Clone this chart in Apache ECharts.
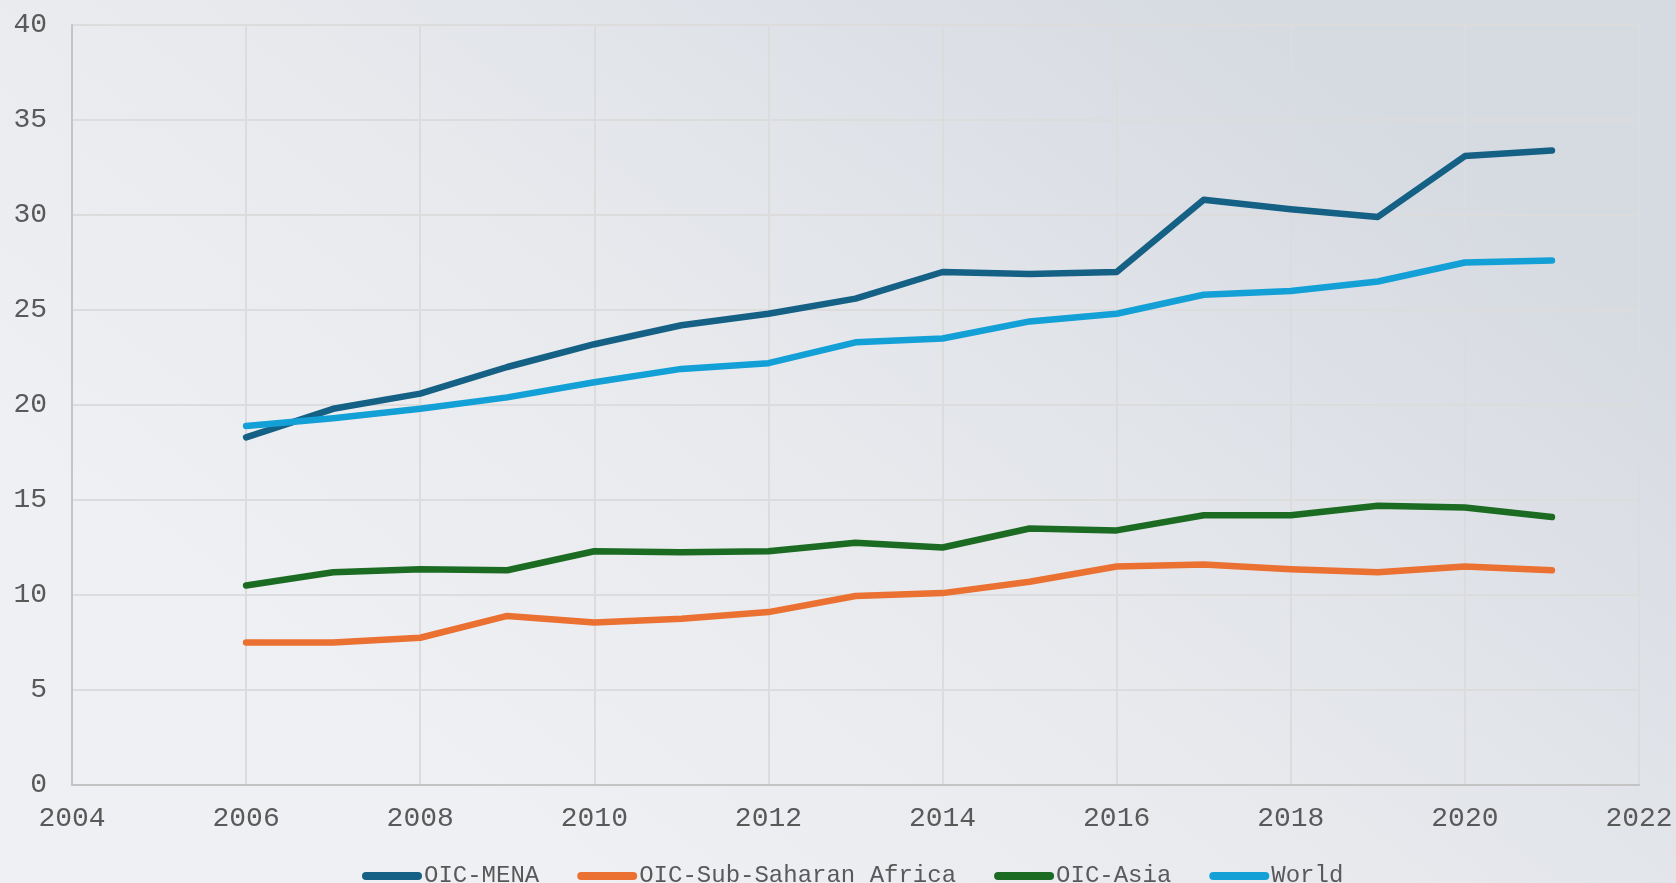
<!DOCTYPE html>
<html>
<head>
<meta charset="utf-8">
<title>OIC regions</title>
<script src="https://cdn.jsdelivr.net/npm/echarts@6/dist/echarts.min.js"></script>
<style>
  html, body { margin: 0; padding: 0; }
  #chart { width: 1676px; height: 883px; }
</style>
</head>
<body>
<div id="chart"></div>
<script>
// years on the x axis
var years = [2006, 2007, 2008, 2009, 2010, 2011, 2012, 2013, 2014, 2015, 2016, 2017, 2018, 2019, 2020, 2021];

// series values
var menaValues = [18.3, 19.8, 20.6, 22.0, 23.2, 24.2, 24.8, 25.6, 27.0, 26.9, 27.0, 30.8, 30.3, 29.9, 33.1, 33.4];
var ssaValues = [7.5, 7.5, 7.75, 8.9, 8.55, 8.75, 9.1, 9.95, 10.1, 10.7, 11.5, 11.6, 11.35, 11.2, 11.5, 11.3];
var asiaValues = [10.5, 11.2, 11.35, 11.3, 12.3, 12.25, 12.3, 12.75, 12.5, 13.5, 13.4, 14.2, 14.2, 14.7, 14.6, 14.1];
var worldValues = [18.9, 19.3, 19.8, 20.4, 21.2, 21.9, 22.2, 23.3, 23.5, 24.4, 24.8, 25.8, 26.0, 26.5, 27.5, 27.6];

var seriesNames = ["OIC-MENA", "OIC-Sub-Saharan Africa", "OIC-Asia", "World"];
var seriesColors = ["#156185", "#ea7131", "#1b6b23", "#12a0d7"];

function pairs(vals) {
  var out = [];
  for (var i = 0; i < years.length; i++) {
    out.push([years[i], vals[i]]);
  }
  return out;
}

function lineSeries(name, vals, color) {
  return {
    name: name,
    type: "line",
    data: pairs(vals),
    symbol: "none",
    smooth: false,
    color: color,
    lineStyle: { width: 6.5, color: color, cap: "round", join: "round" }
  };
}

var fontMono = "'Liberation Mono', 'DejaVu Sans Mono', monospace";
var gridColor = "#dcdcdc";

var chart = echarts.init(document.getElementById("chart"));

var option = {
  animation: false,
  backgroundColor: {
    type: "linear",
    x: 0.75, y: 0, x2: 0.35, y2: 1,
    colorStops: [
      { offset: 0, color: "#d6dae1" },
      { offset: 0.55, color: "#e7e9ed" },
      { offset: 1, color: "#eff0f3" }
    ]
  },
  grid: {
    left: 72,
    right: 37,
    top: 25,
    bottom: 98
  },
  legend: {
    top: 859,
    left: 357,
    itemGap: 38,
    itemWidth: 60,
    itemHeight: 8,
    icon: "path://M4,0 H56 A4,4 0 0 1 56,8 H4 A4,4 0 0 1 4,0 Z",
    textStyle: {
      fontFamily: fontMono,
      fontSize: 24,
      color: "#595959",
      padding: [0, 0, 0, -3]
    },
    data: seriesNames
  },
  xAxis: {
    type: "value",
    min: 2004,
    max: 2022,
    interval: 2,
    axisLine: { show: true, lineStyle: { color: "#c4c4c4", width: 2 } },
    axisTick: { show: false },
    axisLabel: {
      margin: 20,
      fontFamily: fontMono,
      fontSize: 28,
      color: "#595959",
      formatter: function (v) { return String(v); }
    },
    splitLine: { show: true, lineStyle: { color: gridColor, width: 2 } }
  },
  yAxis: {
    type: "value",
    min: 0,
    max: 40,
    interval: 5,
    axisLine: { show: true, lineStyle: { color: "#c4c4c4", width: 2 } },
    axisTick: { show: false },
    axisLabel: {
      margin: 25,
      fontFamily: fontMono,
      fontSize: 28,
      color: "#595959"
    },
    splitLine: { show: true, lineStyle: { color: gridColor, width: 2 } }
  },
  series: [
    lineSeries(seriesNames[0], menaValues, seriesColors[0]),
    lineSeries(seriesNames[1], ssaValues, seriesColors[1]),
    lineSeries(seriesNames[2], asiaValues, seriesColors[2]),
    lineSeries(seriesNames[3], worldValues, seriesColors[3])
  ]
};

chart.setOption(option);
</script>
</body>
</html>
